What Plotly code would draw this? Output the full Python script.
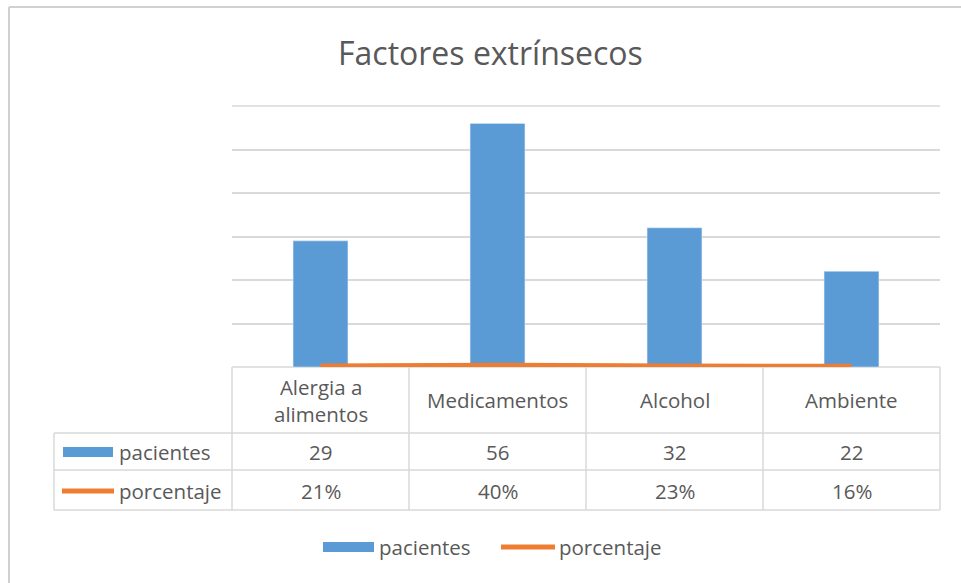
import plotly.graph_objects as go

categories = ["Alergia a<br>alimentos", "Medicamentos", "Alcohol", "Ambiente"]
pacientes = [29, 56, 32, 22]
porcentaje = [0.21, 0.40, 0.23, 0.16]
porcentaje_labels = ["21%", "40%", "23%", "16%"]
series_names = ["pacientes", "porcentaje"]

BLUE = "#5b9bd5"
ORANGE = "#ed7d31"
GRID = "#d9d9d9"
TXT = "#595959"
FONT = "Open Sans"
FS = 20.5

W_PX, H_PX = 961, 583
L, R, T, B = 232, 940, 106, 367
PW, PH = R - L, B - T


def fx(px):
    return (px - L) / PW


def fy(py):
    return (B - py) / PH


fig = go.Figure()
x_idx = list(range(len(categories)))
fig.add_trace(go.Bar(x=x_idx, y=pacientes, name=series_names[0], marker_color=BLUE,
                     width=0.31, showlegend=False))
fig.add_trace(go.Scatter(x=x_idx, y=porcentaje, name=series_names[1], mode="lines",
                         line=dict(color=ORANGE, width=5), showlegend=False))

shapes = []
annotations = []


def hline(x0, x1, y, color=GRID, w=1.5):
    shapes.append(dict(type="line", xref="paper", yref="paper", x0=fx(x0), x1=fx(x1),
                       y0=fy(y), y1=fy(y), line=dict(color=color, width=w), layer="below"))


def vline(x, y0, y1, color=GRID, w=1.5):
    shapes.append(dict(type="line", xref="paper", yref="paper", x0=fx(x), x1=fx(x),
                       y0=fy(y0), y1=fy(y1), line=dict(color=color, width=w), layer="below"))


def text(x, y, s, size=FS, anchor="center"):
    annotations.append(dict(xref="paper", yref="paper", x=fx(x), y=fy(y), text=s,
                            showarrow=False, xanchor=anchor, yanchor="middle",
                            font=dict(family=FONT, size=size, color=TXT)))


# chart frame
hline(9, 961, 7, color="#d0d0d0", w=2)
vline(9, 7, 583, color="#d0d0d0", w=2)

# top gridline (value 60)
hline(L, R, T)

# data table grid
col_edges = [L + i * PW / len(categories) for i in range(len(categories) + 1)]
hline(L, R, B)
hline(54, R, 433)
hline(54, R, 470)
hline(54, R, 510)
vline(54, 433, 510)
for cx in col_edges:
    vline(cx, B, 510)

for i, cat in enumerate(categories):
    cx = (col_edges[i] + col_edges[i + 1]) / 2
    text(cx, 400, cat)
    text(cx, 452, str(pacientes[i]))
    text(cx, 491, porcentaje_labels[i])

# row keys
shapes.append(dict(type="rect", xref="paper", yref="paper", x0=fx(63), x1=fx(113),
                   y0=fy(457), y1=fy(447), fillcolor=BLUE, line=dict(width=0)))
text(117, 452, series_names[0], anchor="left")
shapes.append(dict(type="line", xref="paper", yref="paper", x0=fx(62), x1=fx(114),
                   y0=fy(491), y1=fy(491), line=dict(color=ORANGE, width=5)))
text(117, 491, series_names[1], anchor="left")

# bottom legend
shapes.append(dict(type="rect", xref="paper", yref="paper", x0=fx(323), x1=fx(374),
                   y0=fy(552), y1=fy(542), fillcolor=BLUE, line=dict(width=0)))
text(377, 547, series_names[0], anchor="left")
shapes.append(dict(type="line", xref="paper", yref="paper", x0=fx(501), x1=fx(555),
                   y0=fy(547), y1=fy(547), line=dict(color=ORANGE, width=5)))
text(557, 547, series_names[1], anchor="left")

annotations.append(dict(xref="paper", yref="paper", x=fx(490), y=fy(52),
                        text="Factores extrínsecos", showarrow=False,
                        xanchor="center", yanchor="middle",
                        font=dict(family=FONT, size=32, color=TXT)))

fig.update_layout(
    width=W_PX, height=H_PX,
    margin=dict(l=L, r=W_PX - R, t=T, b=H_PX - B),
    paper_bgcolor="white", plot_bgcolor="white",
    shapes=shapes, annotations=annotations,
    showlegend=False,
    xaxis=dict(range=[-0.5, 3.5], showticklabels=False, showgrid=False, zeroline=False,
               fixedrange=True),
    yaxis=dict(range=[0, 60], dtick=10, showticklabels=False, showgrid=True,
               gridcolor=GRID, gridwidth=1.5, zeroline=False, fixedrange=True),
)

fig.write_html("out.html")
